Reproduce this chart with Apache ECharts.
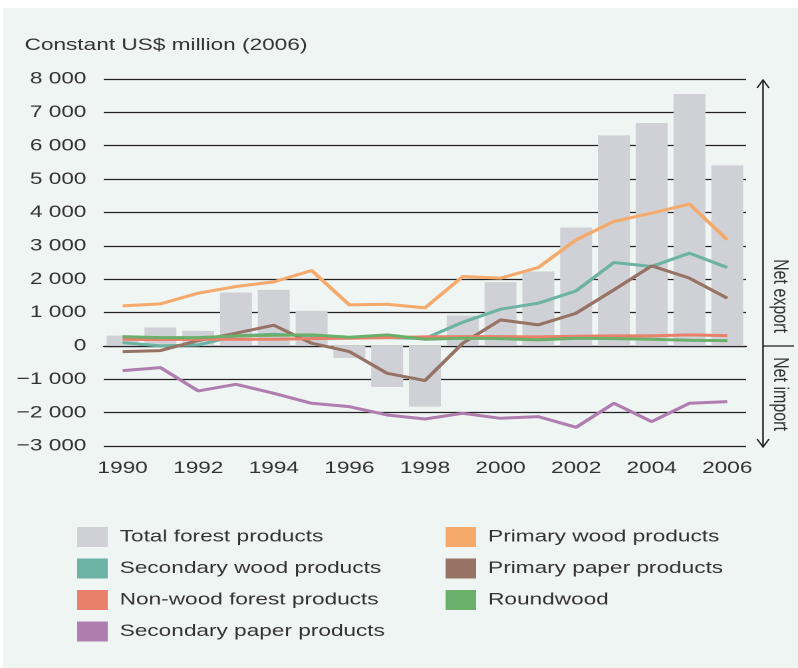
<!DOCTYPE html>
<html>
<head>
<meta charset="utf-8">
<script src="https://cdn.jsdelivr.net/npm/echarts@6/dist/echarts.min.js"></script>
<style>
    html, body { margin: 0; padding: 0; background: #ffffff; overflow: hidden; }
    /* the reference is a horizontally stretched figure, so the chart is drawn narrow and stretched */
    #forest_trade { width: 600px; height: 668px; transform: scaleX(1.33); transform-origin: 0 0; }
</style>
</head>
<body>
<div id="forest_trade"></div>
<script>

// Data
// ------------------------------

var years = ['1990', '1991', '1992', '1993', '1994', '1995', '1996', '1997', '1998',
    '1999', '2000', '2001', '2002', '2003', '2004', '2005', '2006'];

var totalForest = [310, 550, 450, 1600, 1680, 1050, -360, -1230, -1820,
    910, 1910, 2230, 3550, 6310, 6680, 7550, 5410];

var primaryWood = [1200, 1260, 1580, 1780, 1920, 2260, 1230, 1250, 1140,
    2080, 2030, 2350, 3180, 3730, 3980, 4250, 3180];

var secondaryWood = [100, 0, 30, 300, 350, 300, 250, 250, 220,
    710, 1100, 1280, 1650, 2500, 2380, 2780, 2350];

var primaryPaper = [-170, -140, 160, 380, 620, 80, -170, -820, -1040,
    80, 780, 630, 980, 1680, 2400, 2030, 1430];

var nonWood = [200, 190, 200, 200, 200, 220, 230, 250, 270,
    280, 280, 270, 290, 300, 300, 330, 310];

var roundwood = [280, 250, 250, 300, 320, 330, 260, 330, 200,
    230, 220, 180, 230, 220, 200, 170, 160];

var secondaryPaper = [-740, -650, -1350, -1150, -1420, -1720, -1820, -2070, -2190,
    -2020, -2170, -2120, -2440, -1720, -2270, -1720, -1670];


// Setup
// ------------------------------

var chartElement = document.getElementById('forest_trade');
var forestChart = echarts.init(chartElement, null, { devicePixelRatio: 2 });

var fontFamily = 'Liberation Sans, Arial, sans-serif',
    textColor = '#333333',
    axisColor = '#222222',
    panelColor = '#eff5f3';

// "8 000", "−1 000"
var formatThousands = function(v) {
    var a = Math.abs(v);
    var s = a >= 1000 ? Math.floor(a / 1000) + ' ' + ('00' + (a % 1000)).slice(-3) : String(a);
    return (v < 0 ? '\u2212' : '') + s;
};

var lineSeries = function(name, data, color) {
    return {
        name: name,
        type: 'line',
        data: data,
        symbol: 'none',
        lineStyle: { color: color, width: 3 },
        itemStyle: { color: color },
        z: 3
    };
};

forestChart.setOption({
    backgroundColor: '#ffffff',
    animation: false,
    textStyle: { fontFamily: fontFamily, color: textColor },

    title: {
        text: 'Constant US$ million (2006)',
        left: 18.5,
        top: 37,
        padding: 0,
        textStyle: { fontFamily: fontFamily, fontSize: 17, fontWeight: 'normal', color: textColor }
    },

    legend: [
        {
            orient: 'vertical',
            left: 58,
            top: 527,
            padding: 0,
            itemWidth: 23,
            itemHeight: 20,
            itemGap: 11.5,
            icon: 'rect',
            textStyle: { fontFamily: fontFamily, fontSize: 17, color: textColor, padding: [0, 0, 0, 4] },
            data: ['Total forest products', 'Secondary wood products', 'Non-wood forest products', 'Secondary paper products']
        },
        {
            orient: 'vertical',
            left: 335,
            top: 527,
            padding: 0,
            itemWidth: 23,
            itemHeight: 20,
            itemGap: 11.5,
            icon: 'rect',
            textStyle: { fontFamily: fontFamily, fontSize: 17, color: textColor, padding: [0, 0, 0, 4] },
            data: ['Primary wood products', 'Primary paper products', 'Roundwood']
        }
    ],

    grid: {
        left: 78,
        right: 39,
        top: 79,
        bottom: 222
    },

    xAxis: [
        {
            type: 'category',
            data: years,
            boundaryGap: true,
            axisLine: { lineStyle: { color: axisColor, width: 1.3 } },
            axisTick: { alignWithLabel: true, interval: 1, length: 6, lineStyle: { color: axisColor, width: 1.3 } },
            axisLabel: { interval: 1, margin: 14, fontSize: 17, color: textColor, fontFamily: fontFamily }
        },
        {
            // inner half of the crossing tick marks
            type: 'category',
            data: years,
            position: 'bottom',
            boundaryGap: true,
            axisLine: { show: false },
            axisTick: { inside: true, alignWithLabel: true, interval: 1, length: 5, lineStyle: { color: axisColor, width: 1.3 } },
            axisLabel: { show: false }
        }
    ],

    yAxis: {
        type: 'value',
        min: -3000,
        max: 8000,
        interval: 1000,
        axisLine: { show: false },
        axisTick: { show: false },
        axisLabel: { margin: 13, fontSize: 17, color: textColor, fontFamily: fontFamily, formatter: formatThousands },
        splitLine: { lineStyle: { color: axisColor, width: 1.2 } }
    },

    // panel, and the net export / net import arrow on the right
    graphic: [
        {
            type: 'rect',
            z: -10,
            silent: true,
            shape: { x: 2.3, y: 8, width: 600, height: 670 },
            style: { fill: panelColor }
        },
        {
            type: 'line',
            silent: true,
            shape: { x1: 573.7, y1: 80, x2: 573.7, y2: 447 },
            style: { stroke: axisColor, lineWidth: 1.2 }
        },
        {
            type: 'polyline',
            silent: true,
            shape: { points: [[569.2, 88], [573.7, 80], [578.2, 88]] },
            style: { stroke: axisColor, lineWidth: 1.2, fill: null }
        },
        {
            type: 'polyline',
            silent: true,
            shape: { points: [[569.2, 439], [573.7, 447], [578.2, 439]] },
            style: { stroke: axisColor, lineWidth: 1.2, fill: null }
        },
        {
            type: 'line',
            silent: true,
            shape: { x1: 573.7, y1: 346, x2: 597, y2: 346 },
            style: { stroke: axisColor, lineWidth: 1.2 }
        },
        {
            type: 'text',
            silent: true,
            x: 586.5,
            y: 296,
            rotation: -Math.PI / 2,
            style: { text: 'Net export', font: '16px ' + fontFamily, fill: textColor, align: 'center', verticalAlign: 'middle' }
        },
        {
            type: 'text',
            silent: true,
            x: 586.5,
            y: 394,
            rotation: -Math.PI / 2,
            style: { text: 'Net import', font: '16px ' + fontFamily, fill: textColor, align: 'center', verticalAlign: 'middle' }
        }
    ],

    series: [
        {
            name: 'Total forest products',
            type: 'bar',
            data: totalForest,
            barWidth: 24,
            itemStyle: { color: '#d0d1d6' },
            z: 1
        },
        lineSeries('Secondary wood products', secondaryWood, '#6cb3a3'),
        lineSeries('Primary paper products', primaryPaper, '#967364'),
        lineSeries('Primary wood products', primaryWood, '#f5a96b'),
        lineSeries('Secondary paper products', secondaryPaper, '#b07db0'),
        lineSeries('Non-wood forest products', nonWood, '#e9806a'),
        lineSeries('Roundwood', roundwood, '#6aaf6a')
    ]
});

</script>
</body>
</html>
